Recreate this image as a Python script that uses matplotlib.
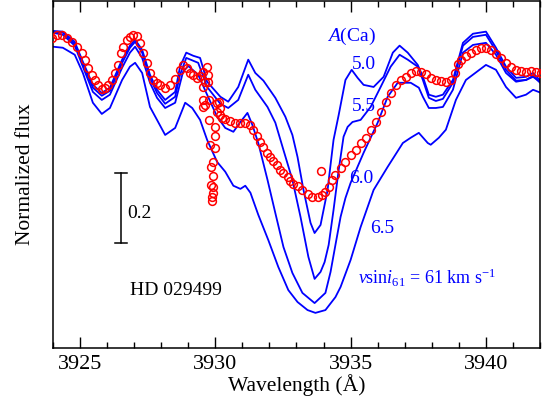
import matplotlib
matplotlib.use("Agg")
import matplotlib.pyplot as plt
from matplotlib.ticker import MultipleLocator, NullLocator

plt.rcParams["font.family"] = ["Liberation Serif", "DejaVu Serif"]
plt.rcParams["mathtext.fontset"] = "custom"
plt.rcParams["mathtext.rm"] = "Liberation Serif"
plt.rcParams["mathtext.it"] = "Liberation Serif:italic"

# observed spectrum of HD 029499 around Ca II K
obs_wl = [3923.96, 3924.15, 3924.33, 3924.52, 3924.70, 3924.89, 3925.07, 3925.19, 3925.30, 3925.44,
          3925.56, 3925.67, 3925.81, 3925.93, 3926.04, 3926.19, 3926.30, 3926.41, 3926.52, 3926.59,
          3926.74, 3926.85, 3926.96, 3927.11, 3927.22, 3927.33, 3927.48, 3927.59, 3927.70, 3927.85,
          3927.96, 3928.15, 3928.33, 3928.52, 3928.70, 3928.81, 3928.96, 3929.07, 3929.19, 3929.33,
          3929.44, 3929.56, 3929.63, 3929.70, 3929.74, 3929.74, 3929.56, 3929.56, 3929.63, 3929.56,
          3929.78, 3929.78, 3929.81, 3930.00, 3930.00, 3930.00, 3929.93, 3929.85, 3929.93, 3929.85,
          3929.93, 3929.93, 3929.89, 3929.89,
          3930.07, 3930.15, 3930.19, 3930.07, 3930.19, 3930.26, 3930.37, 3930.56, 3930.74, 3930.93,
          3931.11, 3931.30, 3931.41, 3931.56, 3931.67, 3931.78, 3931.93, 3932.04, 3932.15, 3932.30,
          3932.41, 3932.52, 3932.67, 3932.78, 3932.89, 3933.04, 3933.22, 3933.41, 3933.59, 3933.78,
          3933.96, 3934.07, 3934.19, 3934.33, 3934.44, 3934.63, 3934.81, 3935.00, 3935.19, 3935.37,
          3935.56, 3935.74, 3935.93, 3936.11, 3936.30, 3936.48, 3936.67, 3936.85, 3937.04, 3937.22,
          3937.41, 3937.59, 3937.78, 3937.96, 3938.15, 3938.33, 3938.52, 3938.70, 3938.85, 3938.96,
          3939.07, 3939.26, 3939.44, 3939.63, 3939.81, 3940.00, 3940.19, 3940.37, 3940.56, 3940.74,
          3940.93, 3941.11, 3941.30, 3941.48, 3941.67, 3941.85, 3942.04, 3933.89]
obs_flux = [0.991, 1.000, 1.000, 0.991, 0.980, 0.966, 0.949, 0.929, 0.906, 0.886,
            0.871, 0.857, 0.846, 0.849, 0.857, 0.871, 0.891, 0.914, 0.949, 0.966,
            0.986, 0.994, 1.000, 0.997, 0.977, 0.949, 0.920, 0.891, 0.871, 0.863,
            0.857, 0.849, 0.857, 0.874, 0.900, 0.914, 0.906, 0.891, 0.886, 0.877,
            0.883, 0.894, 0.866, 0.909, 0.886, 0.866, 0.851, 0.814, 0.800, 0.794,
            0.814, 0.757, 0.686, 0.737, 0.711, 0.677, 0.637, 0.623, 0.597, 0.571,
            0.566, 0.549, 0.537, 0.526,
            0.806, 0.809, 0.791, 0.780, 0.771, 0.763, 0.760, 0.754, 0.749, 0.749,
            0.749, 0.743, 0.729, 0.711, 0.694, 0.680, 0.663, 0.651, 0.640, 0.629,
            0.614, 0.606, 0.594, 0.583, 0.574, 0.569, 0.557, 0.546, 0.537, 0.537,
            0.543, 0.551, 0.566, 0.586, 0.600, 0.620, 0.637, 0.657, 0.671, 0.691,
            0.706, 0.729, 0.751, 0.780, 0.809, 0.834, 0.857, 0.871, 0.880, 0.891,
            0.897, 0.894, 0.889, 0.877, 0.871, 0.869, 0.866, 0.871, 0.891, 0.917,
            0.929, 0.940, 0.949, 0.957, 0.963, 0.963, 0.957, 0.946, 0.934, 0.920,
            0.909, 0.900, 0.897, 0.894, 0.897, 0.894, 0.891, 0.611]

# synthetic spectra for A(Ca) = 5.0, 5.5, 6.0, 6.5
wl_50 = [3924.00, 3924.37, 3924.81, 3925.11, 3925.48, 3925.81, 3926.11, 3926.56, 3926.85, 3927.04,
         3927.30, 3927.59, 3927.85, 3928.15, 3928.52, 3928.70, 3928.93, 3929.19, 3929.44, 3929.70,
         3930.19, 3930.48, 3930.85, 3931.22, 3931.48, 3931.78, 3932.22, 3932.59, 3932.85, 3933.04,
         3933.26, 3933.52, 3933.67, 3933.89, 3934.15, 3934.26, 3934.37, 3934.56, 3934.81, 3935.04,
         3935.26, 3935.48, 3935.85, 3936.22, 3936.56, 3936.81, 3937.11, 3937.48, 3937.67, 3937.89,
         3938.15, 3938.41, 3938.78, 3939.15, 3939.52, 3940.00, 3940.37, 3940.74, 3941.11, 3941.48,
         3941.74, 3942.04]
fl_50 = [1.011, 1.009, 0.980, 0.923, 0.857, 0.834, 0.849, 0.929, 0.969, 0.986,
         0.957, 0.886, 0.843, 0.814, 0.837, 0.909, 0.949, 0.940, 0.934, 0.866,
         0.823, 0.809, 0.851, 0.929, 0.891, 0.869, 0.820, 0.766, 0.714, 0.651,
         0.557, 0.463, 0.434, 0.457, 0.557, 0.629, 0.700, 0.771, 0.871, 0.900,
         0.877, 0.857, 0.851, 0.880, 0.949, 0.969, 0.949, 0.914, 0.880, 0.829,
         0.823, 0.829, 0.871, 0.977, 1.003, 1.009, 0.963, 0.909, 0.877, 0.880,
         0.891, 0.866]

wl_55 = [3924.00, 3924.37, 3924.81, 3925.11, 3925.48, 3925.81, 3926.11, 3926.56, 3926.85, 3927.04,
         3927.30, 3927.59, 3927.85, 3928.15, 3928.52, 3928.70, 3928.93, 3929.37, 3929.70, 3930.19,
         3930.48, 3930.85, 3931.22, 3931.48, 3931.93, 3932.22, 3932.52, 3932.85, 3933.15, 3933.44,
         3933.67, 3933.89, 3934.04, 3934.19, 3934.37, 3934.56, 3934.74, 3934.89, 3935.07, 3935.37,
         3935.74, 3936.11, 3936.48, 3936.81, 3937.11, 3937.48, 3937.67, 3937.89, 3938.15, 3938.41,
         3938.78, 3939.15, 3939.52, 3940.00, 3940.37, 3940.74, 3941.11, 3941.48, 3941.74, 3942.04]
fl_55 = [1.009, 1.006, 0.974, 0.917, 0.849, 0.826, 0.840, 0.920, 0.963, 0.980,
         0.949, 0.877, 0.834, 0.803, 0.823, 0.886, 0.934, 0.920, 0.851, 0.803,
         0.791, 0.814, 0.886, 0.843, 0.794, 0.749, 0.671, 0.586, 0.480, 0.366,
         0.303, 0.323, 0.351, 0.400, 0.500, 0.614, 0.709, 0.737, 0.751, 0.757,
         0.794, 0.851, 0.909, 0.943, 0.929, 0.909, 0.871, 0.820, 0.811, 0.817,
         0.863, 0.969, 0.994, 1.000, 0.954, 0.900, 0.869, 0.871, 0.883, 0.860]

wl_60 = [3924.00, 3924.37, 3924.81, 3925.11, 3925.48, 3925.81, 3926.11, 3926.56, 3926.85, 3927.04,
         3927.30, 3927.59, 3927.85, 3928.15, 3928.52, 3928.81, 3929.00, 3929.37, 3929.70, 3930.07,
         3930.37, 3930.67, 3930.93, 3931.19, 3931.37, 3931.59, 3931.93, 3932.22, 3932.52, 3932.85,
         3933.22, 3933.67, 3934.07, 3934.26, 3934.44, 3934.63, 3934.81, 3935.00, 3935.48, 3936.00,
         3936.37, 3936.74, 3937.22, 3937.52, 3937.67, 3937.89, 3938.15, 3938.41, 3938.78, 3939.15,
         3939.52, 3940.00, 3940.37, 3940.74, 3941.11, 3941.48, 3941.74, 3942.04]
fl_60 = [1.006, 1.000, 0.969, 0.909, 0.837, 0.814, 0.829, 0.906, 0.949, 0.966,
         0.934, 0.863, 0.820, 0.791, 0.806, 0.894, 0.911, 0.886, 0.829, 0.766,
         0.734, 0.723, 0.751, 0.777, 0.743, 0.691, 0.586, 0.491, 0.394, 0.320,
         0.263, 0.234, 0.263, 0.323, 0.400, 0.480, 0.534, 0.577, 0.663, 0.749,
         0.823, 0.863, 0.863, 0.849, 0.823, 0.791, 0.791, 0.794, 0.843, 0.949,
         0.971, 0.977, 0.943, 0.891, 0.866, 0.871, 0.880, 0.863]

wl_65 = [3924.00, 3924.37, 3924.81, 3925.11, 3925.48, 3925.81, 3926.11, 3926.56, 3926.85, 3927.04,
         3927.30, 3927.59, 3927.85, 3928.15, 3928.52, 3928.89, 3929.15, 3929.44, 3929.70, 3930.07,
         3930.37, 3930.67, 3930.93, 3931.11, 3931.30, 3931.59, 3931.96, 3932.33, 3932.70, 3933.04,
         3933.41, 3933.70, 3934.07, 3934.44, 3934.63, 3935.00, 3935.37, 3935.85, 3936.37, 3936.93,
         3937.22, 3937.52, 3937.85, 3937.96, 3938.26, 3938.52, 3938.89, 3939.26, 3940.00, 3940.37,
         3940.74, 3941.11, 3941.48, 3941.74, 3942.04]
fl_65 = [0.966, 0.963, 0.943, 0.891, 0.806, 0.774, 0.791, 0.871, 0.909, 0.920,
         0.891, 0.794, 0.757, 0.714, 0.734, 0.806, 0.791, 0.757, 0.700, 0.637,
         0.609, 0.569, 0.560, 0.569, 0.549, 0.486, 0.414, 0.337, 0.271, 0.237,
         0.214, 0.206, 0.214, 0.251, 0.280, 0.357, 0.451, 0.557, 0.623, 0.691,
         0.706, 0.720, 0.691, 0.686, 0.706, 0.729, 0.814, 0.871, 0.914, 0.900,
         0.851, 0.820, 0.829, 0.843, 0.834]

models = [(wl_50, fl_50), (wl_55, fl_55), (wl_60, fl_60), (wl_65, fl_65)]
abund_labels = ["5.0", "5.5", "6.0", "6.5"]
label_wl = [3935.48, 3935.48, 3935.41, 3936.15]
label_fl = [0.914, 0.794, 0.591, 0.446]

BLUE = "#0000ff"
RED = "#ff0000"

fig = plt.figure(figsize=(5.5, 4.05), dpi=100)
ax = fig.add_axes([0.096, 0.141, 0.886, 0.857])

for wl, fl in models:
    ax.plot(wl, fl, color=BLUE, lw=1.3, zorder=2)
ax.plot(obs_wl, obs_flux, ls="none", marker="o", ms=5.6, mfc="none", mec=RED, mew=1.1, zorder=3)

ax.text(3935.04, 0.994, "$A$(Ca)", color=BLUE, fontsize=14, ha="center", va="center")
for lab, x, y in zip(abund_labels, label_wl, label_fl):
    ax.text(x, y, lab, color=BLUE, fontsize=14, ha="center", va="center")
ax.text(3935.26, 0.306, r"$v$sin$i_{61}$ = 61 km s$^{-1}$", color=BLUE, fontsize=13,
        ha="left", va="center")
ax.text(3928.56, 0.271, "HD 029499", fontsize=14, ha="center", va="center")

# 0.2 flux scale bar
bar_x, bar_lo, bar_len = 3926.52, 0.406, 0.2
ax.plot([bar_x, bar_x], [bar_lo, bar_lo + bar_len], color="k", lw=1.1)
for yy in (bar_lo, bar_lo + bar_len):
    ax.plot([bar_x - 0.22, bar_x + 0.22], [yy, yy], color="k", lw=1.1)
ax.text(3926.74, 0.489, "0.2", fontsize=14, ha="left", va="center")

ax.set_xlim(3924, 3942)
ax.set_ylim(0.106, 1.097)
ax.xaxis.set_major_locator(MultipleLocator(5))
ax.xaxis.set_minor_locator(MultipleLocator(1))
ax.yaxis.set_major_locator(NullLocator())
ax.yaxis.set_minor_locator(NullLocator())
ax.tick_params(axis="x", which="both", direction="in", top=True, labelsize=16, pad=5, width=1.0)
ax.tick_params(axis="x", which="major", length=8)
ax.tick_params(axis="x", which="minor", length=4)
for sp in ax.spines.values():
    sp.set_linewidth(1.1)

ax.set_xlabel("Wavelength (Å)", fontsize=15.5, labelpad=0)
ax.set_ylabel("Normalized flux", fontsize=15.5, labelpad=13)

fig.savefig("out.png", dpi=100)
